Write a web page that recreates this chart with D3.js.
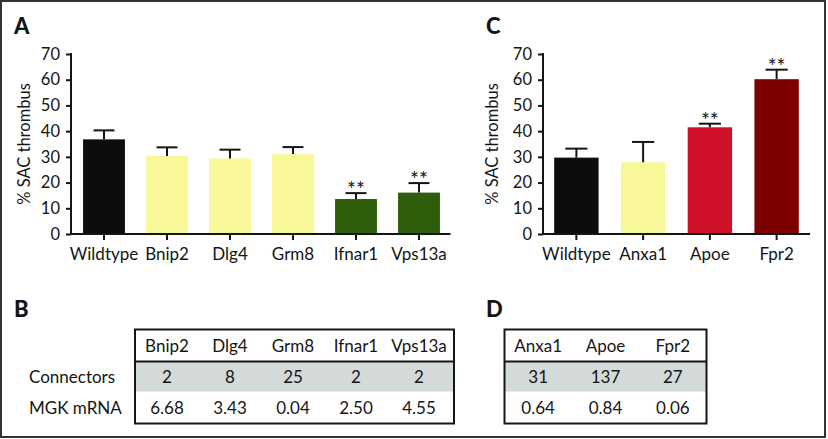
<!DOCTYPE html>
<html>
<head>
<meta charset="utf-8">
<script src="https://cdn.jsdelivr.net/npm/d3@7/dist/d3.min.js"></script>
<style>
  html, body { margin: 0; padding: 0; background: #fff; }
  svg { display: block; }
  text { font-family: Lato, "Open Sans", sans-serif; fill: #151515; }
</style>
</head>
<body>
<svg id="chart" width="828" height="439"></svg>
<script>
// ---------- data ----------
const catsA = ["Wildtype", "Bnip2", "Dlg4", "Grm8", "Ifnar1", "Vps13a"];
const meanA = [36.8, 30.3, 29.4, 31.1, 13.6, 16.1];
const semA  = [3.5, 3.4, 3.4, 2.7, 2.3, 3.7];
const sigA  = ["", "", "", "", "**", "**"];

const catsC = ["Wildtype", "Anxa1", "Apoe", "Fpr2"];
const meanC = [29.7, 27.9, 41.5, 60.2];
const semC  = [3.5, 7.9, 1.4, 3.7];
const sigC  = ["", "", "**", "**"];

const yTicks = [0, 10, 20, 30, 40, 50, 60, 70];
const yLabel = "% SAC thrombus";

const tableBCols = ["Bnip2", "Dlg4", "Grm8", "Ifnar1", "Vps13a"];
const tableBConnectors = ["2", "8", "25", "2", "2"];
const tableBmRNA = ["6.68", "3.43", "0.04", "2.50", "4.55"];

const tableDCols = ["Anxa1", "Apoe", "Fpr2"];
const tableDConnectors = ["31", "137", "27"];
const tableDmRNA = ["0.64", "0.84", "0.06"];

const rowLabels = ["Connectors", "MGK mRNA"];

// ---------- styles ----------
const barColors = {
  Wildtype: "#0d0d0d", Bnip2: "#f8f89a", Dlg4: "#f8f89a", Grm8: "#f8f89a",
  Ifnar1: "#2e5e0c", Vps13a: "#2e5e0c",
  Anxa1: "#f8f89a", Apoe: "#cf1229", Fpr2: "#7d0000"
};
const ink = "#151515";
const grayRow = "#d3dad9";
const fs = 17;

const svg = d3.select("#chart");

// outer frame
svg.append("rect").attr("x", 1).attr("y", 1).attr("width", 824).attr("height", 436)
  .attr("fill", "none").attr("stroke", "#333").attr("stroke-width", 2);

function panelLetter(t, x, y) {
  svg.append("text").attr("x", x).attr("y", y).text(t)
    .attr("font-size", 22).attr("font-weight", 900)
    .style("font-family", "Lato, sans-serif");
}

function barChart(cats, means, sems, sigs, axisX, rangeX, titleX) {
  const y = d3.scaleLinear().domain([0, 70]).range([234, 54]);
  const x = d3.scaleBand().domain(cats).range(rangeX).paddingInner(0.335).paddingOuter(0.1675);
  const g = svg.append("g");

  // bars
  g.selectAll("rect.bar").data(cats).join("rect").attr("class", "bar")
    .attr("x", d => x(d)).attr("width", x.bandwidth())
    .attr("y", (d, i) => y(means[i])).attr("height", (d, i) => y(0) - y(means[i]))
    .attr("fill", d => barColors[d]);

  // error bars (upper only)
  const capW = x.bandwidth() / 2;
  cats.forEach((d, i) => {
    const cx = x(d) + x.bandwidth() / 2;
    const top = y(means[i] + sems[i]);
    g.append("line").attr("x1", cx).attr("x2", cx).attr("y1", y(means[i])).attr("y2", top)
      .attr("stroke", ink).attr("stroke-width", 2);
    g.append("line").attr("x1", cx - capW / 2).attr("x2", cx + capW / 2).attr("y1", top).attr("y2", top)
      .attr("stroke", ink).attr("stroke-width", 2);
    if (sigs[i]) {
      g.append("text").attr("x", cx).attr("y", top + 4).attr("text-anchor", "middle")
        .attr("font-size", 21).text(sigs[i]);
    }
  });

  // y axis
  const ya = g.append("g").attr("transform", `translate(${axisX},0)`)
    .call(d3.axisLeft(y).tickValues(yTicks).tickSize(5).tickSizeOuter(0).tickPadding(6));
  ya.select(".domain").attr("stroke", ink).attr("stroke-width", 2)
    .attr("d", `M0,${y(70) - 1}V${y(0) + 1}`);
  ya.selectAll(".tick line").attr("stroke", ink).attr("stroke-width", 2);
  ya.selectAll(".tick text").attr("font-size", 16.5).style("font-family", "Lato, sans-serif").attr("fill", ink);

  // x axis
  const xa = g.append("g").attr("transform", `translate(0,${y(0)})`)
    .call(d3.axisBottom(x).tickSize(6).tickSizeOuter(0).tickPadding(8));
  xa.select(".domain").attr("stroke", ink).attr("stroke-width", 2)
    .attr("d", `M${axisX - 1},0H${rangeX[1]}`);
  xa.selectAll(".tick line").attr("stroke", ink).attr("stroke-width", 2);
  xa.selectAll(".tick text").attr("font-size", fs).style("font-family", "Lato, sans-serif").attr("fill", ink);

  // y title
  g.append("text").attr("transform", `translate(${titleX},${(y(0) + y(70)) / 2}) rotate(-90)`)
    .attr("text-anchor", "middle").attr("dy", "0.35em").attr("font-size", 16.5).text(yLabel);

  return x;
}

panelLetter("A", 14, 34);
const xA = barChart(catsA, meanA, semA, sigA, 71, [72.5, 450.5], 24);
panelLetter("C", 486, 34);
barChart(catsC, meanC, semC, sigC, 543, [543, 810], 492);

// ---------- tables ----------
const rowY = [329.5, 361.5, 391.5, 423.5];
function table(cols, r1, r2, left, right, colX) {
  const g = svg.append("g");
  g.append("rect").attr("x", left).attr("y", rowY[1]).attr("width", right - left).attr("height", rowY[2] - rowY[1])
    .attr("fill", grayRow);
  g.append("rect").attr("x", left).attr("y", rowY[0]).attr("width", right - left).attr("height", rowY[3] - rowY[0])
    .attr("fill", "none").attr("stroke", ink).attr("stroke-width", 2);
  g.append("line").attr("x1", left).attr("x2", right).attr("y1", rowY[1]).attr("y2", rowY[1])
    .attr("stroke", ink).attr("stroke-width", 2);
  const rows = [cols, r1, r2];
  rows.forEach((row, ri) => {
    const cy = (rowY[ri] + rowY[ri + 1]) / 2;
    row.forEach((v, ci) => {
      g.append("text").attr("x", colX(ci)).attr("y", cy).attr("dy", "0.36em")
        .attr("text-anchor", "middle").attr("font-size", fs).text(v);
    });
  });
}

panelLetter("B", 14, 317);
table(tableBCols, tableBConnectors, tableBmRNA, 135, 454,
  ci => xA(tableBCols[ci]) + xA.bandwidth() / 2);
rowLabels.forEach((t, i) => {
  svg.append("text").attr("x", 29).attr("y", (rowY[i + 1] + rowY[i + 2]) / 2).attr("dy", "0.36em")
    .attr("font-size", fs).text(t);
});

panelLetter("D", 486, 317);
const xD = d3.scaleBand().domain(tableDCols).range([504.5, 706.5]);
table(tableDCols, tableDConnectors, tableDmRNA, 504.5, 706.5,
  ci => xD(tableDCols[ci]) + xD.bandwidth() / 2);
</script>
</body>
</html>
